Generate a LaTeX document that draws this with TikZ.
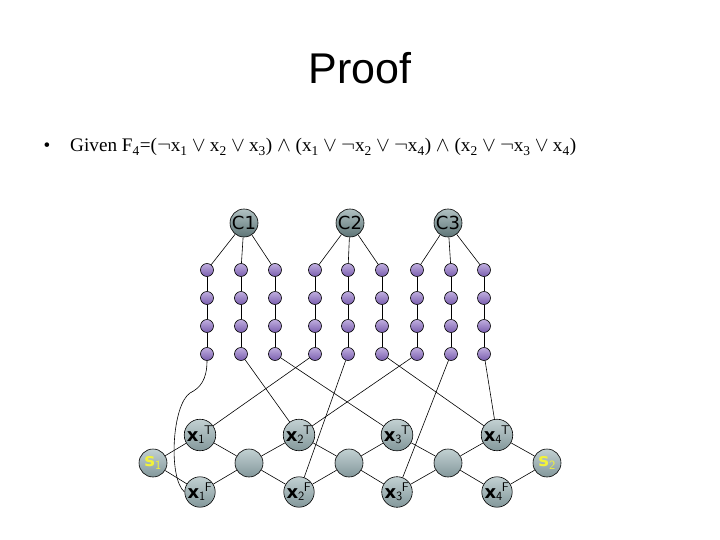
\documentclass[tikz,border=0pt]{standalone}
\usepackage{fontspec}
\setmainfont{Liberation Serif}
\newfontfamily\titlefont{Liberation Sans}
\newfontfamily\nodefont{DejaVu Sans}
\usetikzlibrary{positioning}
\definecolor{clausecol}{HTML}{8FA7A8}
\definecolor{clausedark}{HTML}{5E7577}
\definecolor{varcol}{HTML}{B3C5C7}
\definecolor{vardark}{HTML}{83989B}
\definecolor{dotcol}{HTML}{A58BD2}
\definecolor{dotdark}{HTML}{7A5FAE}
\definecolor{slabel}{HTML}{F2F23A}
\tikzset{
  clause/.style={circle, draw=black, line width=0.6pt, top color=clausecol!70!white, bottom color=clausedark, minimum size=28pt, inner sep=0pt, font=\nodefont\fontsize{18}{18}\selectfont},
  var/.style={circle, draw=black, line width=0.6pt, top color=varcol!80!white, bottom color=vardark, minimum size=28pt, inner sep=0pt, font=\nodefont\fontsize{18}{18}\selectfont},
  lit/.style={circle, draw=black, line width=0.6pt, top color=dotcol!70!white, bottom color=dotdark, minimum size=13pt, inner sep=0pt},
  wire/.style={draw=black, line width=0.6pt}
}
\newcommand{\xlabel}[2]{\textbf{x}$_{\mathsf{#1}}\mkern-1mu{}^{\mathsf{#2}}$}
\newcommand{\slab}[1]{\textcolor{slabel}{\textbf{s}$_{\mathsf{#1}}$}}
\newcommand{\orsym}{\hspace{0.22em}$\vee$\hspace{0.22em}}
\begin{document}
\begin{tikzpicture}[x=1pt, y=-1pt]
\useasboundingbox (0,0) rectangle (720,540);

% title and formula
\node[font=\titlefont\fontsize{43}{43}\selectfont, anchor=base] (title) at (360,84) {Proof};
\node[font=\fontsize{19.2}{20}\selectfont, anchor=base west] (bul) at (40,152) {•};
\node[font=\fontsize{19.2}{20}\selectfont, anchor=base west, inner sep=0pt] (given) at (70,152)
  {Given F\textsubscript{4}=($\neg$x\textsubscript{1}\orsym x\textsubscript{2}\orsym x\textsubscript{3}) $\wedge$ (x\textsubscript{1}\orsym$\neg$x\textsubscript{2}\orsym$\neg$x\textsubscript{4}) $\wedge$ (x\textsubscript{2}\orsym$\neg$x\textsubscript{3}\orsym x\textsubscript{4})};

% clause nodes
\node[clause] (c1) at (244,223) {C1};
\node[clause] (c2) at (350,223) {C2};
\node[clause] (c3) at (448,223) {C3};

% literal chains
\node[lit] (d11) at (207,270) {}; \node[lit] (d12) at (207,298) {}; \node[lit] (d13) at (207,326) {}; \node[lit] (d14) at (207,354) {};
\node[lit] (d21) at (241,270) {}; \node[lit] (d22) at (241,298) {}; \node[lit] (d23) at (241,326) {}; \node[lit] (d24) at (241,354) {};
\node[lit] (d31) at (275,270) {}; \node[lit] (d32) at (275,298) {}; \node[lit] (d33) at (275,326) {}; \node[lit] (d34) at (275,354) {};
\node[lit] (d41) at (315,270) {}; \node[lit] (d42) at (315,298) {}; \node[lit] (d43) at (315,326) {}; \node[lit] (d44) at (315,354) {};
\node[lit] (d51) at (348,270) {}; \node[lit] (d52) at (348,298) {}; \node[lit] (d53) at (348,326) {}; \node[lit] (d54) at (348,354) {};
\node[lit] (d61) at (382,270) {}; \node[lit] (d62) at (382,298) {}; \node[lit] (d63) at (382,326) {}; \node[lit] (d64) at (382,354) {};
\node[lit] (d71) at (417,270) {}; \node[lit] (d72) at (417,298) {}; \node[lit] (d73) at (417,326) {}; \node[lit] (d74) at (417,354) {};
\node[lit] (d81) at (451,270) {}; \node[lit] (d82) at (451,298) {}; \node[lit] (d83) at (451,326) {}; \node[lit] (d84) at (451,354) {};
\node[lit] (d91) at (484,270) {}; \node[lit] (d92) at (484,298) {}; \node[lit] (d93) at (484,326) {}; \node[lit] (d94) at (484,354) {};

% variable gadget
\node[var] (s1) at (153,463) {\slab{1}};
\node[var] (x1t) at (200,435) {\xlabel{1}{T}};
\node[var] (x1f) at (200,492) {\xlabel{1}{F}};
\node[var] (b1) at (249,463) {};
\node[var] (x2t) at (299,435) {\xlabel{2}{T}};
\node[var] (x2f) at (299,492) {\xlabel{2}{F}};
\node[var] (b2) at (349,463) {};
\node[var] (x3t) at (397,435) {\xlabel{3}{T}};
\node[var] (x3f) at (397,492) {\xlabel{3}{F}};
\node[var] (b3) at (448,463) {};
\node[var] (x4t) at (497,435) {\xlabel{4}{T}};
\node[var] (x4f) at (497,492) {\xlabel{4}{F}};
\node[var] (s2) at (547,463) {\slab{2}};

% clause to literal
\draw[wire] (c1) -- (d11); \draw[wire] (c1) -- (d21); \draw[wire] (c1) -- (d31);
\draw[wire] (c2) -- (d41); \draw[wire] (c2) -- (d51); \draw[wire] (c2) -- (d61);
\draw[wire] (c3) -- (d71); \draw[wire] (c3) -- (d81); \draw[wire] (c3) -- (d91);

% chains
\draw[wire] (d11) -- (d12) -- (d13) -- (d14);
\draw[wire] (d21) -- (d22) -- (d23) -- (d24);
\draw[wire] (d31) -- (d32) -- (d33) -- (d34);
\draw[wire] (d41) -- (d42) -- (d43) -- (d44);
\draw[wire] (d51) -- (d52) -- (d53) -- (d54);
\draw[wire] (d61) -- (d62) -- (d63) -- (d64);
\draw[wire] (d71) -- (d72) -- (d73) -- (d74);
\draw[wire] (d81) -- (d82) -- (d83) -- (d84);
\draw[wire] (d91) -- (d92) -- (d93) -- (d94);

% literal to variable
\draw[wire] (d14) .. controls (207,380) and (200,388) .. (190,393) .. controls (172,405) and (168,478) .. (x1f.west);
\draw[wire] (d24) -- (x2t);
\draw[wire] (d34) -- (x3t);
\draw[wire] (d44) -- (x1t);
\draw[wire] (d54) -- (x2f);
\draw[wire] (d64) -- (x4t);
\draw[wire] (d74) -- (x2t);
\draw[wire] (d84) -- (x3f);
\draw[wire] (d94) -- (x4t);

% gadget edges
\draw[wire] (s1) -- (x1t) -- (b1) -- (x2t) -- (b2) -- (x3t) -- (b3) -- (x4t) -- (s2);
\draw[wire] (s1) -- (x1f) -- (b1) -- (x2f) -- (b2) -- (x3f) -- (b3) -- (x4f) -- (s2);
\end{tikzpicture}
\end{document}
